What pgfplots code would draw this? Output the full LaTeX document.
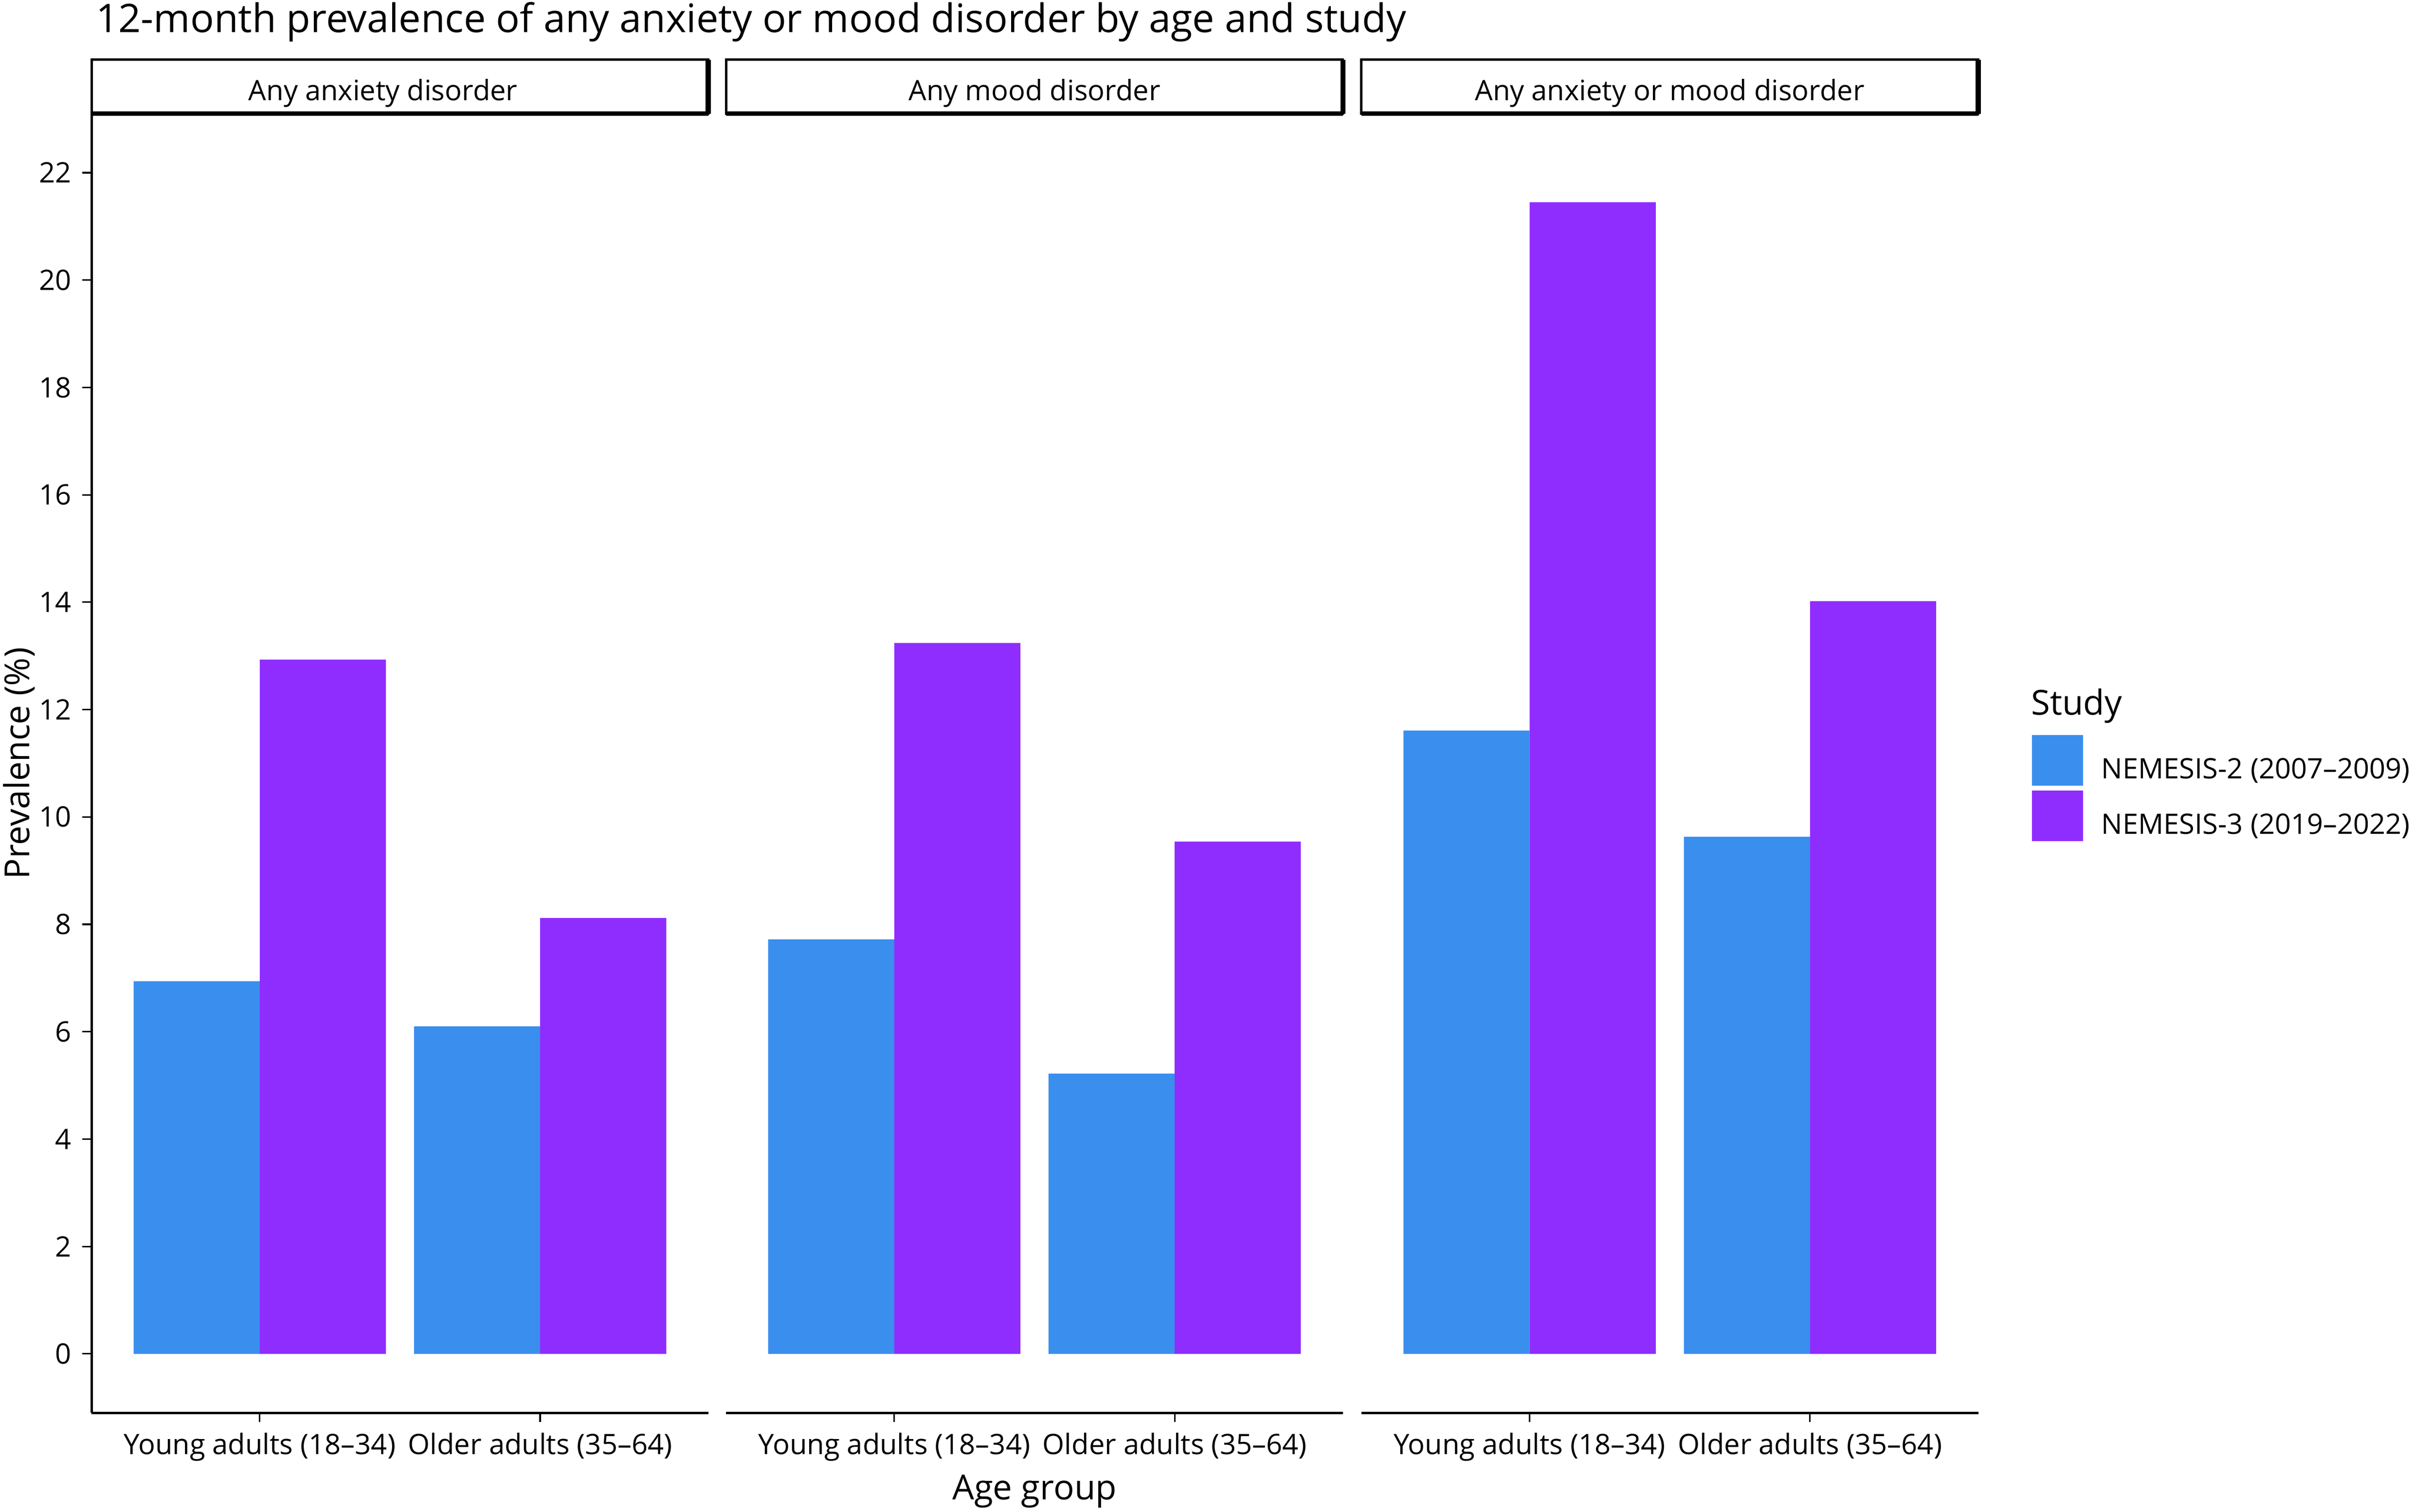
\documentclass[border=0pt]{standalone}
\usepackage{fontspec}
\setmainfont{Open Sans}
\usepackage{pgfplots}
\pgfplotsset{compat=1.18}

\definecolor{nemtwo}{RGB}{58,142,237}
\definecolor{nemthree}{RGB}{143,45,255}

\newcommand\smallfont{\fontsize{9.15}{11}\selectfont}
\newcommand\midfont{\fontsize{11.2}{13.5}\selectfont}

\pgfplotsset{
  panel/.style={
    scale only axis, width=200.5pt, height=422.4pt,
    xmin=0.4, xmax=2.6, ymin=-1.1, ymax=23.1,
    ybar, bar width=0.45,
    xtick={1,2},
    xticklabels={Young adults (18–34), Older adults (35–64)},
    tick align=outside, major tick length=3pt,
    tick style={black, line width=0.5pt},
    axis line style={black, line width=0.8pt, -},
    ticklabel style={font=\smallfont, black},
    /pgf/number format/assume math mode=true,
    every axis title/.style={at={(0.5,1)}, anchor=south, draw=black,
      line width=0.8pt, minimum width=200.5pt, minimum height=17.5pt,
      inner sep=0pt, outer sep=0pt, font=\smallfont},
    clip=false,
    % heavier bottom and right edge of the strip, as in the original
    after end axis/.code={
      \draw[black, line width=1.5pt] (rel axis cs:0,1) -- (rel axis cs:1,1);
      \draw[black, line width=1.7pt] (rel axis cs:1,1) -- ([yshift=17.5pt]rel axis cs:1,1);
    },
  },
  n2/.style={fill=nemtwo, draw=none, bar shift=-0.225},
  n3/.style={fill=nemthree, draw=none, bar shift=0.225},
}

% strip text: baseline 4.5pt below the middle of the strip
\newcommand\strip[1]{\raisebox{-4.5pt}[0pt][0pt]{#1}}

\begin{document}
\begin{tikzpicture}

% Any anxiety disorder
\begin{axis}[panel, at={(0pt,0pt)}, title={\hspace*{-11pt}\strip{Any anxiety disorder}},
  axis x line*=bottom, axis y line*=left, ytick={0,2,...,22}]
  \addplot[n2] coordinates {(1,6.94) (2,6.10)};
  \addplot[n3] coordinates {(1,12.93) (2,8.12)};
\end{axis}

% Any mood disorder
\begin{axis}[panel, at={(206.25pt,0pt)}, title={\strip{Any mood disorder}},
  axis x line*=bottom, axis y line=none]
  \addplot[n2] coordinates {(1,7.72) (2,5.22)};
  \addplot[n3] coordinates {(1,13.24) (2,9.54)};
\end{axis}

% Any anxiety or mood disorder, carries the legend
\begin{axis}[panel, at={(412.75pt,0pt)}, title={\strip{Any anxiety or mood disorder}},
  axis x line*=bottom, axis y line=none,
  legend cell align=left,
  legend style={at={(1.0873,0.5217)}, anchor=north west, draw=none, fill=none,
    inner sep=0pt, outer sep=0pt, font=\smallfont, row sep=1.5pt, column sep=6pt,
    nodes={inner sep=0pt}}]
  \addplot[n2, legend image code/.code={\fill[nemtwo] (0pt,-4.95pt) rectangle (16.5pt,11.55pt);}]
    coordinates {(1,11.61) (2,9.63)};
  \addplot[n3, legend image code/.code={\fill[nemthree] (0pt,-4.95pt) rectangle (16.5pt,11.55pt);}]
    coordinates {(1,21.45) (2,14.02)};
  \legend{NEMESIS-2 (2007–2009), NEMESIS-3 (2019–2022)}
\end{axis}

\node[anchor=base west, inner sep=0pt, font=\fontsize{12.8}{15}\selectfont]
  at (1.25pt,448.85pt) {12-month prevalence of any anxiety or mood disorder by age and study};
\node[anchor=base, inner sep=0pt, font=\midfont] at (306.5pt,-28.15pt) {Age group};
\node[rotate=90, anchor=base, inner sep=0pt, font=\midfont] at (-20.25pt,211.2pt) {Prevalence (\%)};
\node[anchor=base west, inner sep=0pt, font=\midfont] at (630.25pt,226.85pt) {Study};

\pgfresetboundingbox
\useasboundingbox (-29.75pt,-32.15pt) rectangle (754.25pt,459.35pt);
\end{tikzpicture}
\end{document}
